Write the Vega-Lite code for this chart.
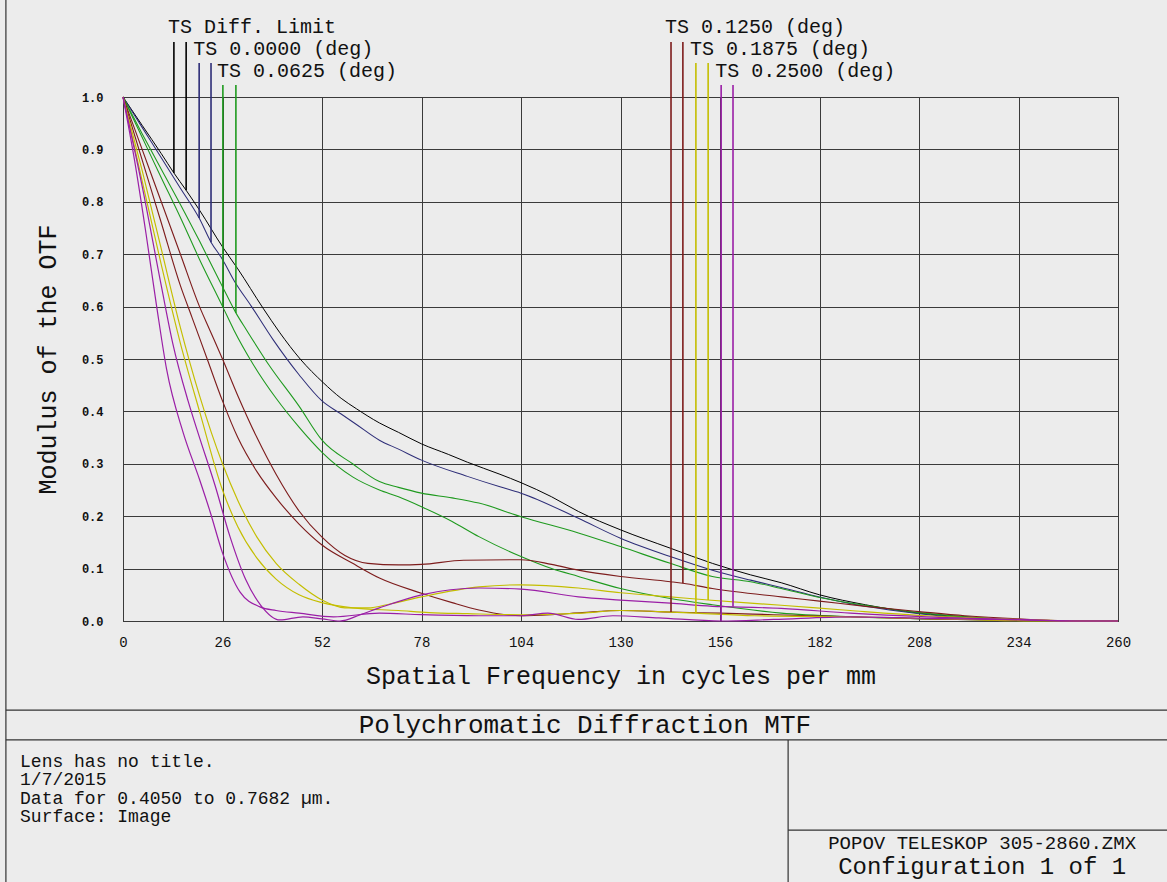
{
  "$schema": "https://vega.github.io/schema/vega-lite/v6.json",
  "width": 995,
  "height": 524,
  "autosize": {"type": "none"},
  "padding": {"left": 123, "top": 97, "right": 49, "bottom": 261},
  "background": "#ececec",
  "config": {"view": {"stroke": "#000000", "strokeWidth": 1, "fill": "#ececec"}, "font": "Liberation Mono"},
  "resolve": {"axis": {"x": "independent", "y": "independent"}},
  "datasets": {
    "curves": [
      {"s":"Diff","p":"T","f":0,"v":1},{"s":"Diff","p":"T","f":5,"v":0.946},{"s":"Diff","p":"T","f":10,"v":0.892},{"s":"Diff","p":"T","f":13.3,"v":0.855},{"s":"Diff","p":"T","f":16.5,"v":0.822},{"s":"Diff","p":"T","f":20,"v":0.784},{"s":"Diff","p":"T","f":26,"v":0.714},{"s":"Diff","p":"T","f":30,"v":0.672},{"s":"Diff","p":"T","f":36.6,"v":0.597},{"s":"Diff","p":"T","f":41,"v":0.55},{"s":"Diff","p":"T","f":46.3,"v":0.5},{"s":"Diff","p":"T","f":52.3,"v":0.455},{"s":"Diff","p":"T","f":57,"v":0.425},{"s":"Diff","p":"T","f":61,"v":0.405},{"s":"Diff","p":"T","f":67,"v":0.378},{"s":"Diff","p":"T","f":72,"v":0.36},{"s":"Diff","p":"T","f":78,"v":0.338},{"s":"Diff","p":"T","f":85,"v":0.318},{"s":"Diff","p":"T","f":90,"v":0.303},{"s":"Diff","p":"T","f":98.5,"v":0.28},{"s":"Diff","p":"T","f":104,"v":0.264},{"s":"Diff","p":"T","f":112,"v":0.237},{"s":"Diff","p":"T","f":119,"v":0.209},{"s":"Diff","p":"T","f":130,"v":0.174},{"s":"Diff","p":"T","f":143,"v":0.139},{"s":"Diff","p":"T","f":154,"v":0.11},{"s":"Diff","p":"T","f":164,"v":0.088},{"s":"Diff","p":"T","f":172,"v":0.073},{"s":"Diff","p":"T","f":182,"v":0.05},{"s":"Diff","p":"T","f":194,"v":0.031},{"s":"Diff","p":"T","f":208,"v":0.015},{"s":"Diff","p":"T","f":220,"v":0.008},{"s":"Diff","p":"T","f":234,"v":0.002},{"s":"Diff","p":"T","f":250,"v":0},{"s":"Diff","p":"T","f":260,"v":0},

      {"s":"0.0000","p":"T","f":0,"v":1},{"s":"0.0000","p":"T","f":5,"v":0.942},{"s":"0.0000","p":"T","f":10,"v":0.884},{"s":"0.0000","p":"T","f":15,"v":0.826},{"s":"0.0000","p":"T","f":19.9,"v":0.769},{"s":"0.0000","p":"T","f":23,"v":0.723},{"s":"0.0000","p":"T","f":26,"v":0.69},{"s":"0.0000","p":"T","f":29,"v":0.65},{"s":"0.0000","p":"T","f":33.6,"v":0.6},{"s":"0.0000","p":"T","f":39.3,"v":0.536},{"s":"0.0000","p":"T","f":46,"v":0.47},{"s":"0.0000","p":"T","f":52,"v":0.42},{"s":"0.0000","p":"T","f":57,"v":0.395},{"s":"0.0000","p":"T","f":61,"v":0.375},{"s":"0.0000","p":"T","f":67,"v":0.345},{"s":"0.0000","p":"T","f":72,"v":0.328},{"s":"0.0000","p":"T","f":78,"v":0.307},{"s":"0.0000","p":"T","f":90,"v":0.276},{"s":"0.0000","p":"T","f":98.5,"v":0.256},{"s":"0.0000","p":"T","f":104,"v":0.244},{"s":"0.0000","p":"T","f":119,"v":0.196},{"s":"0.0000","p":"T","f":130,"v":0.158},{"s":"0.0000","p":"T","f":143,"v":0.123},{"s":"0.0000","p":"T","f":154,"v":0.097},{"s":"0.0000","p":"T","f":164,"v":0.078},{"s":"0.0000","p":"T","f":172,"v":0.064},{"s":"0.0000","p":"T","f":182,"v":0.046},{"s":"0.0000","p":"T","f":194,"v":0.028},{"s":"0.0000","p":"T","f":208,"v":0.014},{"s":"0.0000","p":"T","f":220,"v":0.006},{"s":"0.0000","p":"T","f":234,"v":0.001},{"s":"0.0000","p":"T","f":250,"v":0},{"s":"0.0000","p":"T","f":260,"v":0},

      {"s":"0.0625","p":"T","f":0,"v":1},{"s":"0.0625","p":"T","f":5,"v":0.923},{"s":"0.0625","p":"T","f":10,"v":0.846},{"s":"0.0625","p":"T","f":15,"v":0.77},{"s":"0.0625","p":"T","f":20,"v":0.69},{"s":"0.0625","p":"T","f":26.1,"v":0.599},{"s":"0.0625","p":"T","f":29,"v":0.555},{"s":"0.0625","p":"T","f":34,"v":0.49},{"s":"0.0625","p":"T","f":40,"v":0.425},{"s":"0.0625","p":"T","f":46,"v":0.37},{"s":"0.0625","p":"T","f":52,"v":0.322},{"s":"0.0625","p":"T","f":60,"v":0.275},{"s":"0.0625","p":"T","f":67,"v":0.25},{"s":"0.0625","p":"T","f":72,"v":0.237},{"s":"0.0625","p":"T","f":78,"v":0.218},{"s":"0.0625","p":"T","f":86,"v":0.19},{"s":"0.0625","p":"T","f":93,"v":0.161},{"s":"0.0625","p":"T","f":104,"v":0.123},{"s":"0.0625","p":"T","f":112,"v":0.1},{"s":"0.0625","p":"T","f":119,"v":0.085},{"s":"0.0625","p":"T","f":130,"v":0.062},{"s":"0.0625","p":"T","f":143,"v":0.043},{"s":"0.0625","p":"T","f":154,"v":0.031},{"s":"0.0625","p":"T","f":172,"v":0.015},{"s":"0.0625","p":"T","f":190,"v":0.008},{"s":"0.0625","p":"T","f":210,"v":0.004},{"s":"0.0625","p":"T","f":234,"v":0.001},{"s":"0.0625","p":"T","f":250,"v":0},{"s":"0.0625","p":"T","f":260,"v":0},

      {"s":"0.0625","p":"S","f":0,"v":1},{"s":"0.0625","p":"S","f":5,"v":0.93},{"s":"0.0625","p":"S","f":10,"v":0.862},{"s":"0.0625","p":"S","f":15,"v":0.795},{"s":"0.0625","p":"S","f":20,"v":0.725},{"s":"0.0625","p":"S","f":26,"v":0.638},{"s":"0.0625","p":"S","f":29.5,"v":0.588},{"s":"0.0625","p":"S","f":32.3,"v":0.555},{"s":"0.0625","p":"S","f":38,"v":0.49},{"s":"0.0625","p":"S","f":46,"v":0.41},{"s":"0.0625","p":"S","f":52,"v":0.345},{"s":"0.0625","p":"S","f":60,"v":0.3},{"s":"0.0625","p":"S","f":67,"v":0.266},{"s":"0.0625","p":"S","f":72,"v":0.255},{"s":"0.0625","p":"S","f":78,"v":0.244},{"s":"0.0625","p":"S","f":86,"v":0.235},{"s":"0.0625","p":"S","f":93,"v":0.225},{"s":"0.0625","p":"S","f":104,"v":0.199},{"s":"0.0625","p":"S","f":119,"v":0.168},{"s":"0.0625","p":"S","f":130,"v":0.142},{"s":"0.0625","p":"S","f":143,"v":0.11},{"s":"0.0625","p":"S","f":154,"v":0.085},{"s":"0.0625","p":"S","f":164,"v":0.075},{"s":"0.0625","p":"S","f":172,"v":0.062},{"s":"0.0625","p":"S","f":182,"v":0.045},{"s":"0.0625","p":"S","f":194,"v":0.03},{"s":"0.0625","p":"S","f":208,"v":0.016},{"s":"0.0625","p":"S","f":220,"v":0.008},{"s":"0.0625","p":"S","f":234,"v":0.002},{"s":"0.0625","p":"S","f":250,"v":0},{"s":"0.0625","p":"S","f":260,"v":0},

      {"s":"0.1250","p":"S","f":0,"v":1},{"s":"0.1250","p":"S","f":5,"v":0.9},{"s":"0.1250","p":"S","f":10,"v":0.8},{"s":"0.1250","p":"S","f":15,"v":0.7},{"s":"0.1250","p":"S","f":20,"v":0.6},{"s":"0.1250","p":"S","f":22.7,"v":0.555},{"s":"0.1250","p":"S","f":26,"v":0.5},{"s":"0.1250","p":"S","f":30,"v":0.43},{"s":"0.1250","p":"S","f":35,"v":0.35},{"s":"0.1250","p":"S","f":40,"v":0.28},{"s":"0.1250","p":"S","f":46,"v":0.21},{"s":"0.1250","p":"S","f":52,"v":0.16},{"s":"0.1250","p":"S","f":58,"v":0.125},{"s":"0.1250","p":"S","f":64,"v":0.11},{"s":"0.1250","p":"S","f":72,"v":0.107},{"s":"0.1250","p":"S","f":78,"v":0.108},{"s":"0.1250","p":"S","f":89,"v":0.116},{"s":"0.1250","p":"S","f":104,"v":0.117},{"s":"0.1250","p":"S","f":112,"v":0.108},{"s":"0.1250","p":"S","f":119,"v":0.097},{"s":"0.1250","p":"S","f":130,"v":0.085},{"s":"0.1250","p":"S","f":143,"v":0.075},{"s":"0.1250","p":"S","f":146.3,"v":0.072},{"s":"0.1250","p":"S","f":154,"v":0.062},{"s":"0.1250","p":"S","f":172,"v":0.046},{"s":"0.1250","p":"S","f":182,"v":0.038},{"s":"0.1250","p":"S","f":194,"v":0.028},{"s":"0.1250","p":"S","f":208,"v":0.018},{"s":"0.1250","p":"S","f":220,"v":0.01},{"s":"0.1250","p":"S","f":234,"v":0.004},{"s":"0.1250","p":"S","f":250,"v":0},{"s":"0.1250","p":"S","f":260,"v":0},

      {"s":"0.1250","p":"T","f":0,"v":1},{"s":"0.1250","p":"T","f":5,"v":0.88},{"s":"0.1250","p":"T","f":10,"v":0.76},{"s":"0.1250","p":"T","f":15,"v":0.64},{"s":"0.1250","p":"T","f":18,"v":0.58},{"s":"0.1250","p":"T","f":22,"v":0.5},{"s":"0.1250","p":"T","f":26,"v":0.42},{"s":"0.1250","p":"T","f":30,"v":0.35},{"s":"0.1250","p":"T","f":35,"v":0.285},{"s":"0.1250","p":"T","f":40,"v":0.235},{"s":"0.1250","p":"T","f":46,"v":0.185},{"s":"0.1250","p":"T","f":52,"v":0.145},{"s":"0.1250","p":"T","f":60,"v":0.11},{"s":"0.1250","p":"T","f":67,"v":0.082},{"s":"0.1250","p":"T","f":78,"v":0.053},{"s":"0.1250","p":"T","f":86,"v":0.035},{"s":"0.1250","p":"T","f":93,"v":0.021},{"s":"0.1250","p":"T","f":100,"v":0.012},{"s":"0.1250","p":"T","f":104,"v":0.01},{"s":"0.1250","p":"T","f":112,"v":0.012},{"s":"0.1250","p":"T","f":120,"v":0.016},{"s":"0.1250","p":"T","f":130,"v":0.02},{"s":"0.1250","p":"T","f":143.2,"v":0.017},{"s":"0.1250","p":"T","f":156,"v":0.015},{"s":"0.1250","p":"T","f":170,"v":0.012},{"s":"0.1250","p":"T","f":190,"v":0.008},{"s":"0.1250","p":"T","f":210,"v":0.004},{"s":"0.1250","p":"T","f":234,"v":0.001},{"s":"0.1250","p":"T","f":250,"v":0},{"s":"0.1250","p":"T","f":260,"v":0},

      {"s":"0.1875","p":"S","f":0,"v":1},{"s":"0.1875","p":"S","f":5,"v":0.86},{"s":"0.1875","p":"S","f":10,"v":0.71},{"s":"0.1875","p":"S","f":15,"v":0.56},{"s":"0.1875","p":"S","f":20,"v":0.43},{"s":"0.1875","p":"S","f":26,"v":0.3},{"s":"0.1875","p":"S","f":30,"v":0.23},{"s":"0.1875","p":"S","f":35,"v":0.16},{"s":"0.1875","p":"S","f":40,"v":0.11},{"s":"0.1875","p":"S","f":46,"v":0.07},{"s":"0.1875","p":"S","f":52,"v":0.04},{"s":"0.1875","p":"S","f":58,"v":0.025},{"s":"0.1875","p":"S","f":64,"v":0.025},{"s":"0.1875","p":"S","f":70,"v":0.033},{"s":"0.1875","p":"S","f":78,"v":0.046},{"s":"0.1875","p":"S","f":93,"v":0.065},{"s":"0.1875","p":"S","f":104,"v":0.069},{"s":"0.1875","p":"S","f":119,"v":0.063},{"s":"0.1875","p":"S","f":130,"v":0.054},{"s":"0.1875","p":"S","f":143,"v":0.046},{"s":"0.1875","p":"S","f":152.9,"v":0.04},{"s":"0.1875","p":"S","f":172,"v":0.03},{"s":"0.1875","p":"S","f":190,"v":0.02},{"s":"0.1875","p":"S","f":210,"v":0.01},{"s":"0.1875","p":"S","f":234,"v":0.003},{"s":"0.1875","p":"S","f":250,"v":0},{"s":"0.1875","p":"S","f":260,"v":0},

      {"s":"0.1875","p":"T","f":0,"v":1},{"s":"0.1875","p":"T","f":5,"v":0.84},{"s":"0.1875","p":"T","f":10,"v":0.68},{"s":"0.1875","p":"T","f":15,"v":0.53},{"s":"0.1875","p":"T","f":20,"v":0.4},{"s":"0.1875","p":"T","f":26,"v":0.25},{"s":"0.1875","p":"T","f":30,"v":0.18},{"s":"0.1875","p":"T","f":35,"v":0.12},{"s":"0.1875","p":"T","f":40,"v":0.08},{"s":"0.1875","p":"T","f":46,"v":0.05},{"s":"0.1875","p":"T","f":52,"v":0.035},{"s":"0.1875","p":"T","f":60,"v":0.025},{"s":"0.1875","p":"T","f":72,"v":0.02},{"s":"0.1875","p":"T","f":80,"v":0.016},{"s":"0.1875","p":"T","f":90,"v":0.014},{"s":"0.1875","p":"T","f":104,"v":0.012},{"s":"0.1875","p":"T","f":120,"v":0.015},{"s":"0.1875","p":"T","f":130,"v":0.02},{"s":"0.1875","p":"T","f":140,"v":0.018},{"s":"0.1875","p":"T","f":149.7,"v":0.015},{"s":"0.1875","p":"T","f":165,"v":0.01},{"s":"0.1875","p":"T","f":190,"v":0.008},{"s":"0.1875","p":"T","f":220,"v":0.003},{"s":"0.1875","p":"T","f":240,"v":0},{"s":"0.1875","p":"T","f":260,"v":0},

      {"s":"0.2500","p":"T","f":0,"v":1},{"s":"0.2500","p":"T","f":3,"v":0.88},{"s":"0.2500","p":"T","f":6,"v":0.74},{"s":"0.2500","p":"T","f":8.8,"v":0.6},{"s":"0.2500","p":"T","f":11.4,"v":0.48},{"s":"0.2500","p":"T","f":15.7,"v":0.36},{"s":"0.2500","p":"T","f":20,"v":0.27},{"s":"0.2500","p":"T","f":22.7,"v":0.21},{"s":"0.2500","p":"T","f":26,"v":0.13},{"s":"0.2500","p":"T","f":30.6,"v":0.055},{"s":"0.2500","p":"T","f":35.8,"v":0.027},{"s":"0.2500","p":"T","f":40,"v":0.02},{"s":"0.2500","p":"T","f":46,"v":0.015},{"s":"0.2500","p":"T","f":55,"v":0.008},{"s":"0.2500","p":"T","f":67,"v":0.015},{"s":"0.2500","p":"T","f":78,"v":0.012},{"s":"0.2500","p":"T","f":93,"v":0.01},{"s":"0.2500","p":"T","f":104,"v":0.01},{"s":"0.2500","p":"T","f":111,"v":0.015},{"s":"0.2500","p":"T","f":119,"v":0.003},{"s":"0.2500","p":"T","f":128,"v":0.01},{"s":"0.2500","p":"T","f":140,"v":0.006},{"s":"0.2500","p":"T","f":156.3,"v":0},{"s":"0.2500","p":"T","f":170,"v":0.003},{"s":"0.2500","p":"T","f":190,"v":0.008},{"s":"0.2500","p":"T","f":210,"v":0.005},{"s":"0.2500","p":"T","f":234,"v":0.002},{"s":"0.2500","p":"T","f":250,"v":0},{"s":"0.2500","p":"T","f":260,"v":0},

      {"s":"0.2500","p":"S","f":0,"v":1},{"s":"0.2500","p":"S","f":5,"v":0.83},{"s":"0.2500","p":"S","f":10,"v":0.64},{"s":"0.2500","p":"S","f":13,"v":0.53},{"s":"0.2500","p":"S","f":17,"v":0.42},{"s":"0.2500","p":"S","f":20,"v":0.35},{"s":"0.2500","p":"S","f":24,"v":0.26},{"s":"0.2500","p":"S","f":28,"v":0.16},{"s":"0.2500","p":"S","f":32,"v":0.08},{"s":"0.2500","p":"S","f":36,"v":0.03},{"s":"0.2500","p":"S","f":41,"v":0.002},{"s":"0.2500","p":"S","f":47,"v":0.008},{"s":"0.2500","p":"S","f":52,"v":0.004},{"s":"0.2500","p":"S","f":56.7,"v":0},{"s":"0.2500","p":"S","f":62,"v":0.012},{"s":"0.2500","p":"S","f":67,"v":0.025},{"s":"0.2500","p":"S","f":78,"v":0.05},{"s":"0.2500","p":"S","f":93,"v":0.063},{"s":"0.2500","p":"S","f":104,"v":0.061},{"s":"0.2500","p":"S","f":119,"v":0.046},{"s":"0.2500","p":"S","f":130,"v":0.04},{"s":"0.2500","p":"S","f":143,"v":0.034},{"s":"0.2500","p":"S","f":154,"v":0.028},{"s":"0.2500","p":"S","f":159.4,"v":0.027},{"s":"0.2500","p":"S","f":172,"v":0.024},{"s":"0.2500","p":"S","f":190,"v":0.015},{"s":"0.2500","p":"S","f":210,"v":0.008},{"s":"0.2500","p":"S","f":234,"v":0.003},{"s":"0.2500","p":"S","f":250,"v":0},{"s":"0.2500","p":"S","f":260,"v":0}
    ],
    "marks": [
      {"s":"Diff","p":"T","f":13.3,"v":0.855,"row":1},{"s":"Diff","p":"S","f":16.5,"v":0.822,"row":1},
      {"s":"0.0000","p":"T","f":19.9,"v":0.769,"row":2},{"s":"0.0000","p":"S","f":23.0,"v":0.723,"row":2},
      {"s":"0.0625","p":"T","f":26.1,"v":0.599,"row":3},{"s":"0.0625","p":"S","f":29.5,"v":0.588,"row":3},
      {"s":"0.1250","p":"T","f":143.2,"v":0.017,"row":1},{"s":"0.1250","p":"S","f":146.3,"v":0.072,"row":1},
      {"s":"0.1875","p":"T","f":149.7,"v":0.015,"row":2},{"s":"0.1875","p":"S","f":152.9,"v":0.04,"row":2},
      {"s":"0.2500","p":"T","f":156.3,"v":0.0,"row":3},{"s":"0.2500","p":"S","f":159.4,"v":0.027,"row":3}
    ],
    "labels": [
      {"s":"Diff","label":"TS Diff. Limit","f":13.3,"row":1},
      {"s":"0.0000","label":"TS 0.0000 (deg)","f":19.9,"row":2},
      {"s":"0.0625","label":"TS 0.0625 (deg)","f":26.1,"row":3},
      {"s":"0.1250","label":"TS 0.1250 (deg)","f":143.2,"row":1},
      {"s":"0.1875","label":"TS 0.1875 (deg)","f":149.7,"row":2},
      {"s":"0.2500","label":"TS 0.2500 (deg)","f":156.3,"row":3}
    ]
  },
  "layer": [
    {
      "data": {"name": "curves"},
      "mark": {"type": "line", "interpolate": "monotone"},
      "encoding": {
        "x": {"field": "f", "type": "quantitative", "scale": {"domain": [0, 260], "nice": false, "zero": false},
          "axis": {"values": [0,26,52,78,104,130,156,182,208,234,260], "grid": true, "gridColor": "#3a3a3a", "gridOpacity": 1, "gridWidth": 1, "domain": false, "ticks": false,
            "labelPadding": 14, "labelFont": "Liberation Mono", "labelFontSize": 14, "labelColor": "#111111", "labelFlush": false,
            "title": "Spatial Frequency in cycles per mm", "titleFont": "Liberation Mono", "titleFontSize": 25, "titleFontWeight": "normal", "titleColor": "#111111", "titlePadding": 14}},
        "y": {"field": "v", "type": "quantitative", "scale": {"domain": [0, 1], "nice": false},
          "axis": {"values": [0,0.1,0.2,0.3,0.4,0.5,0.6,0.7,0.8,0.9,1.0], "format": ".1f", "grid": true, "gridColor": "#3a3a3a", "gridOpacity": 1, "gridWidth": 1, "domain": false, "ticks": false,
            "labelPadding": 20, "labelFont": "Liberation Mono", "labelFontSize": 12, "labelFontWeight": "bold", "labelColor": "#111111", "labelFlush": false,
            "title": "Modulus of the OTF", "titleFont": "Liberation Mono", "titleFontSize": 25, "titleFontWeight": "normal", "titleColor": "#111111", "titlePadding": 21}},
        "color": {"field": "s", "type": "nominal", "legend": null,
          "scale": {"domain": ["Diff","0.0000","0.0625","0.1250","0.1875","0.2500"], "range": ["#000000","#2e2e78","#1e9a1e","#7d1c1c","#c4be00","#9a1ea6"]}},
        "strokeWidth": {"field": "s", "type": "nominal", "legend": null,
          "scale": {"domain": ["Diff","0.0000","0.0625","0.1250","0.1875","0.2500"], "range": [1, 1.2, 2.2, 2, 1.6, 2]}},
        "detail": {"field": "p"}
      }
    },
    {
      "data": {"name": "marks"},
      "transform": [{"filter": "datum.row == 1"}],
      "mark": {"type": "rule", "strokeWidth": 1.6},
      "encoding": {
        "x": {"field": "f", "type": "quantitative", "axis": null},
        "y": {"field": "v", "type": "quantitative", "axis": null},
        "y2": {"datum": 1.105},
        "color": {"field": "s", "type": "nominal", "legend": null}
      }
    },
    {
      "data": {"name": "marks"},
      "transform": [{"filter": "datum.row == 2"}],
      "mark": {"type": "rule", "strokeWidth": 1.6},
      "encoding": {
        "x": {"field": "f", "type": "quantitative", "axis": null},
        "y": {"field": "v", "type": "quantitative", "axis": null},
        "y2": {"datum": 1.065},
        "color": {"field": "s", "type": "nominal", "legend": null}
      }
    },
    {
      "data": {"name": "marks"},
      "transform": [{"filter": "datum.row == 3"}],
      "mark": {"type": "rule", "strokeWidth": 1.6},
      "encoding": {
        "x": {"field": "f", "type": "quantitative", "axis": null},
        "y": {"field": "v", "type": "quantitative", "axis": null},
        "y2": {"datum": 1.023},
        "color": {"field": "s", "type": "nominal", "legend": null}
      }
    },
    {
      "data": {"name": "labels"},
      "transform": [{"filter": "datum.row == 1"}],
      "mark": {"type": "text", "align": "left", "baseline": "alphabetic", "dx": -6, "font": "Liberation Mono", "fontSize": 20, "fill": "#111111"},
      "encoding": {
        "x": {"field": "f", "type": "quantitative", "axis": null},
        "y": {"datum": 1.122, "type": "quantitative", "axis": null},
        "text": {"field": "label"}
      }
    },
    {
      "data": {"name": "labels"},
      "transform": [{"filter": "datum.row == 2"}],
      "mark": {"type": "text", "align": "left", "baseline": "alphabetic", "dx": -6, "font": "Liberation Mono", "fontSize": 20, "fill": "#111111"},
      "encoding": {
        "x": {"field": "f", "type": "quantitative", "axis": null},
        "y": {"datum": 1.080, "type": "quantitative", "axis": null},
        "text": {"field": "label"}
      }
    },
    {
      "data": {"name": "labels"},
      "transform": [{"filter": "datum.row == 3"}],
      "mark": {"type": "text", "align": "left", "baseline": "alphabetic", "dx": -6, "font": "Liberation Mono", "fontSize": 20, "fill": "#111111"},
      "encoding": {
        "x": {"field": "f", "type": "quantitative", "axis": null},
        "y": {"datum": 1.038, "type": "quantitative", "axis": null},
        "text": {"field": "label"}
      }
    },
    {
      "data": {"values": [{}]},
      "mark": {"type": "rule", "stroke": "#333333", "strokeWidth": 1.2},
      "encoding": {"x": {"datum": -30.6, "type": "quantitative", "axis": null}, "x2": {"datum": 273}, "y": {"datum": -0.170, "type": "quantitative", "axis": null}}
    },
    {
      "data": {"values": [{}]},
      "mark": {"type": "rule", "stroke": "#333333", "strokeWidth": 1.2},
      "encoding": {"x": {"datum": -30.6, "type": "quantitative", "axis": null}, "x2": {"datum": 273}, "y": {"datum": -0.227, "type": "quantitative", "axis": null}}
    },
    {
      "data": {"values": [{}]},
      "mark": {"type": "rule", "stroke": "#333333", "strokeWidth": 1.2},
      "encoding": {"x": {"datum": 173.8, "type": "quantitative", "axis": null}, "y": {"datum": -0.227, "type": "quantitative", "axis": null}, "y2": {"datum": -0.50}}
    },
    {
      "data": {"values": [{}]},
      "mark": {"type": "rule", "stroke": "#333333", "strokeWidth": 1.2},
      "encoding": {"x": {"datum": 173.8, "type": "quantitative", "axis": null}, "x2": {"datum": 273}, "y": {"datum": -0.399, "type": "quantitative", "axis": null}}
    },
    {
      "data": {"values": [{}]},
      "mark": {"type": "rule", "stroke": "#333333", "strokeWidth": 1.2},
      "encoding": {"x": {"datum": -30.6, "type": "quantitative", "axis": null}, "y": {"datum": -0.50, "type": "quantitative", "axis": null}, "y2": {"datum": 1.19}}
    },
    {
      "data": {"values": [{}]},
      "mark": {"type": "text", "align": "center", "baseline": "middle", "font": "Liberation Mono", "fontSize": 26, "fill": "#111111", "text": "Polychromatic Diffraction MTF"},
      "encoding": {"x": {"datum": 120.7, "type": "quantitative", "axis": null}, "y": {"datum": -0.1985, "type": "quantitative", "axis": null}}
    },
    {
      "data": {"values": [{}]},
      "mark": {"type": "text", "align": "left", "baseline": "middle", "font": "Liberation Mono", "fontSize": 18, "lineHeight": 18.5, "fill": "#111111", "text": ["Lens has no title.", "1/7/2015", "Data for 0.4050 to 0.7682 µm.", "Surface: Image"]},
      "encoding": {"x": {"datum": -26.9, "type": "quantitative", "axis": null}, "y": {"datum": -0.269, "type": "quantitative", "axis": null}}
    },
    {
      "data": {"values": [{}]},
      "mark": {"type": "text", "align": "center", "baseline": "middle", "font": "Liberation Mono", "fontSize": 19, "fill": "#111111", "text": "POPOV TELESKOP 305-2860.ZMX"},
      "encoding": {"x": {"datum": 224.5, "type": "quantitative", "axis": null}, "y": {"datum": -0.4237, "type": "quantitative", "axis": null}}
    },
    {
      "data": {"values": [{}]},
      "mark": {"type": "text", "align": "center", "baseline": "middle", "font": "Liberation Mono", "fontSize": 24, "fill": "#111111", "text": "Configuration 1 of 1"},
      "encoding": {"x": {"datum": 224.5, "type": "quantitative", "axis": null}, "y": {"datum": -0.470, "type": "quantitative", "axis": null}}
    }
  ]
}
